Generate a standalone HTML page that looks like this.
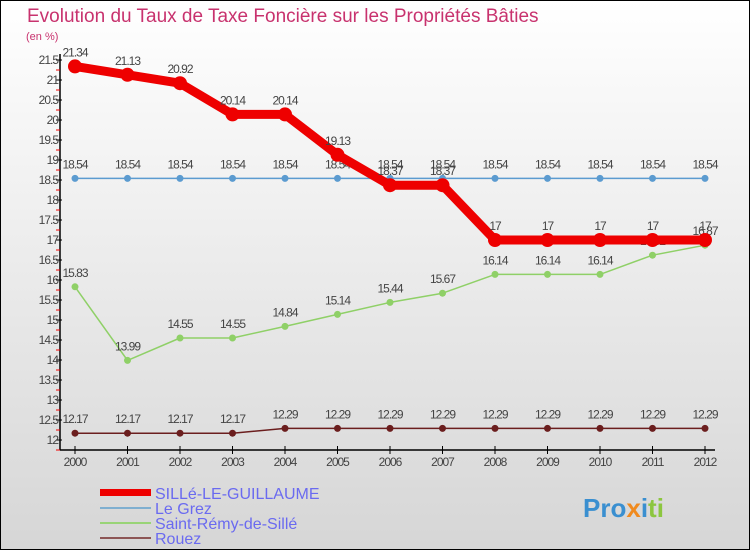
<!DOCTYPE html>
<html><head><meta charset="utf-8"><style>
html,body{margin:0;padding:0}
body{width:750px;height:550px;overflow:hidden;font-family:"Liberation Sans",sans-serif}
svg{display:block}
</style></head><body>
<svg width="750" height="550" viewBox="0 0 750 550">
<defs><linearGradient id="bg" x1="0" y1="0" x2="0" y2="1"><stop offset="0" stop-color="#ffffff"/><stop offset="1" stop-color="#d6d6d6"/></linearGradient></defs>
<rect x="0.5" y="0.5" width="749" height="549" fill="url(#bg)" stroke="#000"/>
<text x="27" y="22" font-size="19" fill="#c8326e">Evolution du Taux de Taxe Foncière sur les Propriétés Bâties</text>
<text x="26" y="40" font-size="11" fill="#c8326e">(en %)</text>
<g id="axes"></g>
<g id="series"></g>
<g>
<rect x="100" y="489" width="51" height="7" fill="#e00"/>
<text x="155" y="499" font-size="16" fill="#6a6af0">SILLé-LE-GUILLAUME</text>
<line x1="100" y1="508" x2="151" y2="508" stroke="#7fafd0" stroke-width="2"/>
<text x="155" y="514" font-size="16" fill="#6a6af0">Le Grez</text>
<line x1="100" y1="523" x2="151" y2="523" stroke="#99d477" stroke-width="2"/>
<text x="155" y="529" font-size="16" fill="#6a6af0">Saint-Rémy-de-Sillé</text>
<line x1="100" y1="538" x2="151" y2="538" stroke="#8c5555" stroke-width="2"/>
<text x="155" y="544" font-size="16" fill="#6a6af0">Rouez</text>
</g>
<g font-size="26" font-weight="bold">
<text x="583" y="517"><tspan fill="#3a8fd0">Pro</tspan><tspan fill="#f08a1e">x</tspan><tspan fill="#3a8fd0">i</tspan><tspan fill="#8cc63f">ti</tspan></text>
</g>
</svg>
<script>
const years=[2000,2001,2002,2003,2004,2005,2006,2007,2008,2009,2010,2011,2012];
const sille=[21.34,21.13,20.92,20.14,20.14,19.13,18.37,18.37,17,17,17,17,17];
const grez=[18.54,18.54,18.54,18.54,18.54,18.54,18.54,18.54,18.54,18.54,18.54,18.54,18.54];
const saintRemy=[15.83,13.99,14.55,14.55,14.84,15.14,15.44,15.67,16.14,16.14,16.14,16.62,16.87];
const rouez=[12.17,12.17,12.17,12.17,12.29,12.29,12.29,12.29,12.29,12.29,12.29,12.29,12.29];
const yTicks=[12,12.5,13,13.5,14,14.5,15,15.5,16,16.5,17,17.5,18,18.5,19,19.5,20,20.5,21,21.5];
const NS="http://www.w3.org/2000/svg";
const X=i=>75+i*52.5;
const Y=v=>440-(v-12)*40;
function mk(tag,attrs,parent){const e=document.createElementNS(NS,tag);for(const k in attrs)e.setAttribute(k,attrs[k]);parent.appendChild(e);return e;}
const ax=document.getElementById('axes');
let l=mk('line',{x1:60,y1:Y(21.5)-6,x2:60,y2:450,stroke:'#000','stroke-width':1.5},ax);


l=mk('line',{x1:60,y1:450,x2:715,y2:450,stroke:'#000','stroke-width':1.5},ax);


yTicks.forEach(v=>{
 const y=Y(v);
 mk('line',{x1:56,y1:y,x2:62,y2:y,stroke:'#000'},ax);
 mk('line',{x1:56,y1:y+10,x2:60,y2:y+10,stroke:'#e00'},ax);
 const t=mk('text',{x:58,y:y+4,'font-size':12,'text-anchor':'end',fill:'#444','letter-spacing':'-1'},ax);
 t.textContent=String(v);
 
 
});
years.forEach((yr,i)=>{
 mk('line',{x1:X(i),y1:446,x2:X(i),y2:454,stroke:'#000'},ax);
 const t=mk('text',{x:X(i),y:466,'font-size':12,'text-anchor':'middle',fill:'#444','letter-spacing':'-1'},ax);
 t.textContent=String(yr);
 
 
});
const sg=document.getElementById('series');
function series(vals,color,w,r,name){
 const g=mk('g',{},sg);
 
 
 mk('polyline',{points:vals.map((v,i)=>X(i)+','+Y(v)).join(' '),fill:'none',stroke:color,'stroke-width':w,'stroke-linejoin':'round'},g);
 vals.forEach((v,i)=>{
  const c=mk('circle',{cx:X(i),cy:Y(v),r:r,fill:color},g);
  
  
  const t=mk('text',{x:X(i),y:Y(v)-10,'font-size':12,'text-anchor':'middle',fill:'#444','letter-spacing':'-1'},g);
  t.textContent=String(v);
  
  
 });
}
series(rouez,'#6b1e1e',1.5,3.5,'series-rouez');
series(saintRemy,'#8fd067',1.5,3.5,'series-saint-remy');
series(grez,'#5b9bd0',1.5,3.5,'series-le-grez');
series(sille,'#ee0000',9,7,'series-sille-le-guillaume');
</script>
</body></html>
